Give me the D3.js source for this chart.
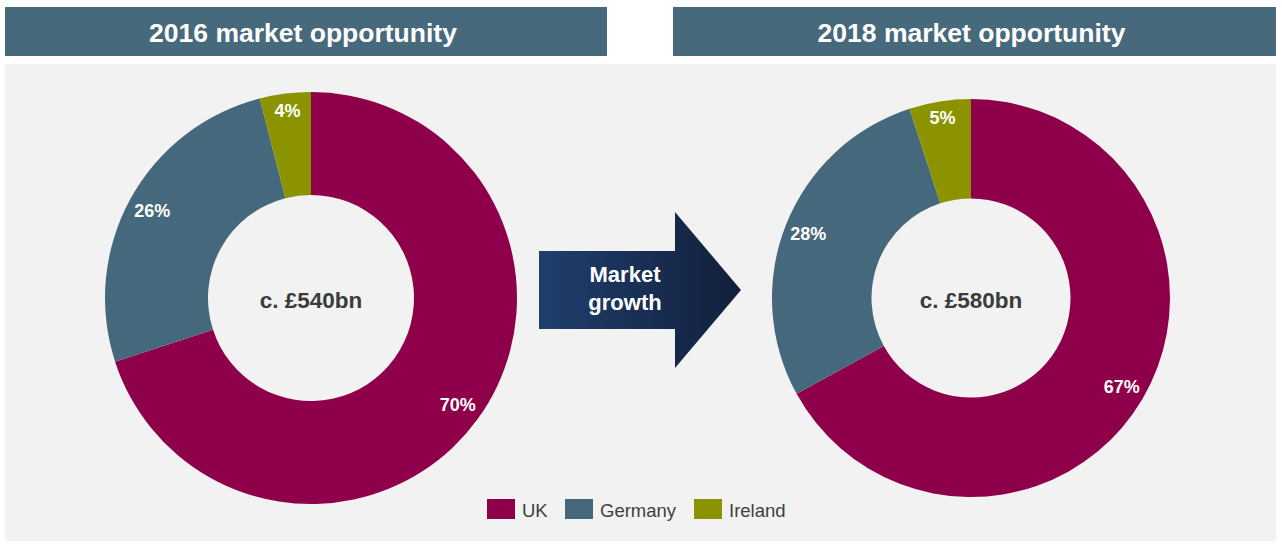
<!DOCTYPE html>
<html>
<head>
<meta charset="utf-8">
<script src="https://cdn.jsdelivr.net/npm/d3@7"></script>
<style>
  html, body { margin: 0; padding: 0; background: #ffffff; }
  svg { display: block; font-family: "Liberation Sans", Arial, Helvetica, sans-serif; }
</style>
</head>
<body>
<svg id="chart" width="1282" height="544"></svg>
<script>
// Market shares by country, two snapshots
const regions = ["UK", "Germany", "Ireland"];
const share2016 = [70, 26, 4];
const share2018 = [67, 28, 5];
const titles = ["2016 market opportunity", "2018 market opportunity"];
const totals = ["c. £540bn", "c. £580bn"];
const arrowLines = ["Market", "growth"];

const palette = ["#8e0049", "#46687c", "#8c9300"];
const color = d3.scaleOrdinal().domain(regions).range(palette);

const svg = d3.select("#chart");

// gradient for the growth arrow
const defs = svg.append("defs");
const grad = defs.append("linearGradient").attr("id", "arrowGrad")
  .attr("x1", "0%").attr("x2", "100%").attr("y1", "0%").attr("y2", "0%");
grad.append("stop").attr("offset", "0%").attr("stop-color", "#203f6d");
grad.append("stop").attr("offset", "100%").attr("stop-color", "#121f3b");

// grey panel behind the charts
svg.append("rect").attr("x", 5).attr("y", 64).attr("width", 1271).attr("height", 477)
  .attr("fill", "#f2f2f2");

// header bars
const headers = [{x: 5, w: 602}, {x: 673, w: 603}];
headers.forEach((h, i) => {
  svg.append("rect").attr("x", h.x).attr("y", 7).attr("width", h.w).attr("height", 49)
    .attr("fill", "#46697c");
  svg.append("text").attr("x", h.x + h.w / 2 - 3).attr("y", 33)
    .attr("text-anchor", "middle").attr("dominant-baseline", "central")
    .attr("fill", "#ffffff").attr("font-weight", "bold").attr("font-size", 26.5)
    .text(titles[i]);
});

// donuts
const pie = d3.pie().sort(null).value(d => d.v);
const donuts = [
  {cx: 311, cy: 298, r: 206, values: share2016},
  {cx: 971, cy: 298, r: 199, values: share2018}
];

donuts.forEach((dn, i) => {
  const data = regions.map((k, j) => ({k, v: dn.values[j]}));
  const arc = d3.arc().innerRadius(dn.r * 0.5).outerRadius(dn.r);
  // narrow slices get their label pushed a little further out
  const labelPos = d => {
    const f = (d.endAngle - d.startAngle) < 0.5 ? 0.915 : 0.88;
    return d3.arc().innerRadius(dn.r * f).outerRadius(dn.r * f).centroid(d);
  };
  const g = svg.append("g").attr("transform", `translate(${dn.cx},${dn.cy})`);
  const arcs = pie(data);
  g.selectAll("path").data(arcs).join("path")
    .attr("d", arc).attr("fill", d => color(d.data.k));
  g.selectAll("text.pct").data(arcs).join("text").attr("class", "pct")
    .attr("transform", d => `translate(${labelPos(d)})`)
    .attr("text-anchor", "middle").attr("dominant-baseline", "central")
    .attr("fill", "#ffffff").attr("font-weight", "bold").attr("font-size", 18)
    .text(d => d.data.v + "%");
  g.append("text").attr("x", 0).attr("y", 2)
    .attr("text-anchor", "middle").attr("dominant-baseline", "central")
    .attr("fill", "#3b3b3b").attr("font-weight", "bold").attr("font-size", 22.5)
    .text(totals[i]);
});

// growth arrow between the donuts
const ax0 = 539, ax1 = 675, tip = 741, ay = 290;
const arrowPts = [
  [ax0, 251], [ax1, 251], [ax1, 212], [tip, ay], [ax1, 368], [ax1, 329], [ax0, 329]
];
svg.append("path").attr("d", d3.line()(arrowPts) + "Z").attr("fill", "url(#arrowGrad)");
svg.append("text").attr("x", 625).attr("y", 290)
  .attr("text-anchor", "middle").attr("fill", "#ffffff")
  .attr("font-weight", "bold").attr("font-size", 22)
  .selectAll("tspan").data(arrowLines).join("tspan")
  .attr("x", 625).attr("dy", (d, i) => i === 0 ? "-0.35em" : "1.25em")
  .text(d => d);

// legend
const legendX = [487, 565, 694];
const lg = svg.append("g");
regions.forEach((k, i) => {
  lg.append("rect").attr("x", legendX[i]).attr("y", 499).attr("width", 28).attr("height", 20)
    .attr("fill", color(k));
  lg.append("text").attr("x", legendX[i] + 35).attr("y", 510)
    .attr("dominant-baseline", "central").attr("fill", "#404040").attr("font-size", 18.5)
    .text(k);
});
</script>
</body>
</html>
